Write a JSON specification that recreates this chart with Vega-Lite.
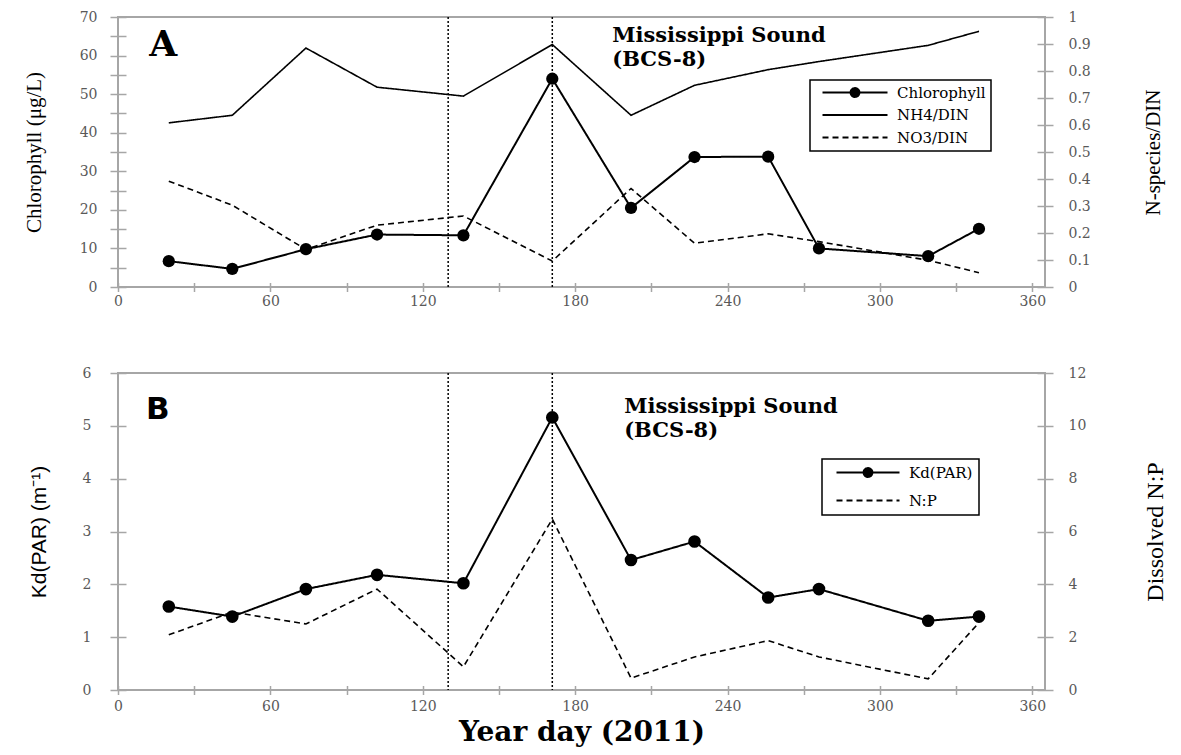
{
  "$schema": "https://vega.github.io/schema/vega-lite/v6.json",
  "background": "white",
  "padding": {"left": 22, "top": 9, "right": 5, "bottom": 5},
  "datasets": {
    "chl": [
      {"day": 20, "series": "Chlorophyll", "value": 6.7},
      {"day": 45, "series": "Chlorophyll", "value": 4.7},
      {"day": 74, "series": "Chlorophyll", "value": 9.8},
      {"day": 102, "series": "Chlorophyll", "value": 13.6},
      {"day": 136, "series": "Chlorophyll", "value": 13.4},
      {"day": 171, "series": "Chlorophyll", "value": 54.0},
      {"day": 202, "series": "Chlorophyll", "value": 20.5},
      {"day": 227, "series": "Chlorophyll", "value": 33.7},
      {"day": 256, "series": "Chlorophyll", "value": 33.8},
      {"day": 276, "series": "Chlorophyll", "value": 10.0},
      {"day": 319, "series": "Chlorophyll", "value": 8.0},
      {"day": 339, "series": "Chlorophyll", "value": 15.1}
    ],
    "nspecies": [
      {"day": 20, "series": "NH4/DIN", "value": 0.608},
      {"day": 45, "series": "NH4/DIN", "value": 0.636},
      {"day": 74, "series": "NH4/DIN", "value": 0.885},
      {"day": 102, "series": "NH4/DIN", "value": 0.74},
      {"day": 136, "series": "NH4/DIN", "value": 0.707},
      {"day": 171, "series": "NH4/DIN", "value": 0.898},
      {"day": 202, "series": "NH4/DIN", "value": 0.636},
      {"day": 227, "series": "NH4/DIN", "value": 0.747},
      {"day": 256, "series": "NH4/DIN", "value": 0.805},
      {"day": 276, "series": "NH4/DIN", "value": 0.835},
      {"day": 319, "series": "NH4/DIN", "value": 0.895},
      {"day": 339, "series": "NH4/DIN", "value": 0.947},
      {"day": 20, "series": "NO3/DIN", "value": 0.392},
      {"day": 45, "series": "NO3/DIN", "value": 0.303},
      {"day": 74, "series": "NO3/DIN", "value": 0.139},
      {"day": 102, "series": "NO3/DIN", "value": 0.229},
      {"day": 136, "series": "NO3/DIN", "value": 0.263},
      {"day": 171, "series": "NO3/DIN", "value": 0.096},
      {"day": 202, "series": "NO3/DIN", "value": 0.365},
      {"day": 227, "series": "NO3/DIN", "value": 0.162},
      {"day": 256, "series": "NO3/DIN", "value": 0.197},
      {"day": 276, "series": "NO3/DIN", "value": 0.168},
      {"day": 319, "series": "NO3/DIN", "value": 0.099},
      {"day": 339, "series": "NO3/DIN", "value": 0.053}
    ],
    "kd": [
      {"day": 20, "series": "Kd(PAR)", "value": 1.58},
      {"day": 45, "series": "Kd(PAR)", "value": 1.39},
      {"day": 74, "series": "Kd(PAR)", "value": 1.91},
      {"day": 102, "series": "Kd(PAR)", "value": 2.18},
      {"day": 136, "series": "Kd(PAR)", "value": 2.02},
      {"day": 171, "series": "Kd(PAR)", "value": 5.16},
      {"day": 202, "series": "Kd(PAR)", "value": 2.46},
      {"day": 227, "series": "Kd(PAR)", "value": 2.81},
      {"day": 256, "series": "Kd(PAR)", "value": 1.75},
      {"day": 276, "series": "Kd(PAR)", "value": 1.91},
      {"day": 319, "series": "Kd(PAR)", "value": 1.31},
      {"day": 339, "series": "Kd(PAR)", "value": 1.39}
    ],
    "np": [
      {"day": 20, "series": "N:P", "value": 2.09},
      {"day": 45, "series": "N:P", "value": 2.95},
      {"day": 74, "series": "N:P", "value": 2.5},
      {"day": 102, "series": "N:P", "value": 3.82},
      {"day": 136, "series": "N:P", "value": 0.88},
      {"day": 171, "series": "N:P", "value": 6.47},
      {"day": 202, "series": "N:P", "value": 0.45},
      {"day": 227, "series": "N:P", "value": 1.25},
      {"day": 256, "series": "N:P", "value": 1.87},
      {"day": 276, "series": "N:P", "value": 1.25},
      {"day": 319, "series": "N:P", "value": 0.42},
      {"day": 339, "series": "N:P", "value": 2.55}
    ],
    "events": [
      {"day": 130},
      {"day": 171}
    ],
    "labelsA": [
      {"day": 12.3, "level": 60, "label": "A"}
    ],
    "titlesA": [
      {"day": 194.6, "level": 63.4, "label": "Mississippi Sound"},
      {"day": 194.6, "level": 57.3, "label": "(BCS-8)"}
    ],
    "labelsB": [
      {"day": 11, "level": 5.13, "label": "B"}
    ],
    "titlesB": [
      {"day": 199.3, "level": 5.24, "label": "Mississippi Sound"},
      {"day": 199.3, "level": 4.795, "label": "(BCS-8)"}
    ]
  },
  "spacing": 55,
  "resolve": {"scale": {"strokeDash": "independent"}, "legend": {"strokeDash": "independent"}},
  "vconcat": [
    {
      "width": 927,
      "height": 270,
      "layer": [
        {
          "data": {"name": "chl"},
          "mark": {"type": "line", "color": "black", "strokeWidth": 2},
          "encoding": {
            "x": {"field": "day", "type": "quantitative", "scale": {"domain": [0, 365], "nice": false},
              "axis": {"values": [0, 30, 60, 90, 120, 150, 180, 210, 240, 270, 300, 330, 360],
                "labelExpr": "datum.value % 60 === 0 ? datum.label : ''", "labelOverlap": false,
                "title": null, "offset": -4.5, "tickSize": 9, "labelPadding": 3}},
            "y": {"field": "value", "type": "quantitative", "scale": {"domain": [0, 70], "nice": false},
              "axis": {"orient": "left", "title": "Chlorophyll (μg/L)", "values": [0, 5, 10, 15, 20, 25, 30, 35, 40, 45, 50, 55, 60, 65, 70],
                "labelExpr": "datum.value % 10 === 0 ? datum.label : ''", "labelOverlap": false,
                "offset": -8, "tickSize": 16, "labelPadding": 13, "titleX": -81.8,
                "titleFont": "Liberation Serif", "titleFontSize": 21}},
            "strokeDash": {"field": "series", "type": "nominal",
              "scale": {"domain": ["Chlorophyll", "NH4/DIN", "NO3/DIN"], "range": [[1, 0], [1, 0], [6, 4]]},
              "legend": {"title": null, "orient": "none", "legendX": 692, "legendY": 63,
                "strokeColor": "black", "fillColor": "white", "padding": 5,
                "symbolType": "M0,0H13", "symbolSize": 100, "symbolStrokeWidth": 1.8,
                "symbolStrokeColor": "black", "symbolFillColor": "black",
                "labelFont": "DejaVu Serif", "labelFontSize": 15, "labelColor": "black", "labelOffset": 67, "rowPadding": 6.5,
                "encode": {"symbols": {"update": {
                  "shape": {"signal": "datum.value === 'Chlorophyll' ? 'M0,0H13M5.6,0A0.9,0.9 0 1,1 7.4,0A0.9,0.9 0 1,1 5.6,0Z' : 'M0,0H13'"},
                  "fill": {"value": "black"}, "stroke": {"value": "black"}}},
                  "legend": {"update": {"strokeWidth": {"value": 1.5}}}}}}
          }
        },
        {
          "data": {"name": "nspecies"},
          "mark": {"type": "line", "color": "black", "strokeWidth": 1.6},
          "encoding": {
            "x": {"field": "day", "type": "quantitative"},
            "y": {"field": "value", "type": "quantitative", "scale": {"domain": [0, 1], "nice": false},
              "axis": {"orient": "right", "title": "N-species/DIN", "values": [0, 0.1, 0.2, 0.3, 0.4, 0.5, 0.6, 0.7, 0.8, 0.9, 1],
                "format": "~g", "labelOverlap": false, "offset": -8, "tickSize": 16, "labelPadding": 15, "titlePadding": 52,
                "titleAngle": 270, "titleBaseline": "top",
                "titleFont": "Liberation Serif", "titleFontSize": 21}},
            "strokeDash": {"field": "series", "type": "nominal",
              "scale": {"domain": ["Chlorophyll", "NH4/DIN", "NO3/DIN"], "range": [[1, 0], [1, 0], [6, 4]]}},
            "detail": {"field": "series", "type": "nominal"}
          }
        },
        {
          "data": {"name": "events"},
          "mark": {"type": "rule", "color": "black", "strokeWidth": 1.5, "strokeDash": [2, 2]},
          "encoding": {
            "x": {"field": "day", "type": "quantitative"}
          }
        },
        {
          "data": {"name": "chl"},
          "mark": {"type": "point", "filled": true, "color": "black", "size": 150, "opacity": 1},
          "encoding": {
            "x": {"field": "day", "type": "quantitative"},
            "y": {"field": "value", "type": "quantitative", "scale": {"domain": [0, 70], "nice": false}, "axis": null}
          }
        },
        {
          "data": {"name": "labelsA"},
          "mark": {"type": "text", "font": "DejaVu Serif", "fontWeight": "bold", "fontSize": 36, "align": "left", "baseline": "alphabetic", "color": "black"},
          "encoding": {
            "x": {"field": "day", "type": "quantitative"},
            "y": {"field": "level", "type": "quantitative", "scale": {"domain": [0, 70], "nice": false}, "axis": null},
            "text": {"field": "label"}
          }
        },
        {
          "data": {"name": "titlesA"},
          "mark": {"type": "text", "font": "DejaVu Serif", "fontWeight": "bold", "fontSize": 21, "align": "left", "baseline": "alphabetic", "color": "black"},
          "encoding": {
            "x": {"field": "day", "type": "quantitative"},
            "y": {"field": "level", "type": "quantitative", "scale": {"domain": [0, 70], "nice": false}, "axis": null},
            "text": {"field": "label"}
          }
        }
      ],
      "resolve": {"scale": {"y": "independent"}}
    },
    {
      "width": 927,
      "height": 317,
      "layer": [
        {
          "data": {"name": "kd"},
          "mark": {"type": "line", "color": "black", "strokeWidth": 2},
          "encoding": {
            "x": {"field": "day", "type": "quantitative", "scale": {"domain": [0, 365], "nice": false},
              "axis": {"values": [0, 30, 60, 90, 120, 150, 180, 210, 240, 270, 300, 330, 360],
                "labelExpr": "datum.value % 60 === 0 ? datum.label : ''", "labelOverlap": false,
                "title": "Year day (2011)", "titleFont": "DejaVu Serif", "titleFontWeight": "bold", "titleFontSize": 28,
                "titlePadding": 5, "offset": -4.5, "tickSize": 9, "labelPadding": 5}},
            "y": {"field": "value", "type": "quantitative", "scale": {"domain": [0, 6], "nice": false},
              "axis": {"orient": "left", "title": "Kd(PAR) (m⁻¹)", "values": [0, 1, 2, 3, 4, 5, 6], "labelOverlap": false,
                "offset": -8, "tickSize": 16, "labelPadding": 19, "titleX": -76.8,
                "titleFont": "Liberation Sans", "titleFontSize": 21}},
            "strokeDash": {"field": "series", "type": "nominal",
              "scale": {"domain": ["Kd(PAR)", "N:P"], "range": [[1, 0], [6, 4]]},
              "legend": {"title": null, "orient": "none", "legendX": 704, "legendY": 86,
                "strokeColor": "black", "fillColor": "white", "padding": 6,
                "symbolType": "M-0.2,0H12.4", "symbolSize": 100, "symbolStrokeWidth": 1.8,
                "symbolStrokeColor": "black", "symbolFillColor": "black",
                "labelFont": "DejaVu Serif", "labelFontSize": 15, "labelColor": "black", "labelOffset": 66, "rowPadding": 12,
                "encode": {"symbols": {"update": {
                  "shape": {"signal": "datum.value === 'Kd(PAR)' ? 'M0.2,0H12.8M5.6,0A0.9,0.9 0 1,1 7.4,0A0.9,0.9 0 1,1 5.6,0Z' : 'M0.2,0H12.8'"},
                  "fill": {"value": "black"}, "stroke": {"value": "black"}}},
                  "legend": {"update": {"strokeWidth": {"value": 1.5}}}}}}
          }
        },
        {
          "data": {"name": "np"},
          "mark": {"type": "line", "color": "black", "strokeWidth": 1.6},
          "encoding": {
            "x": {"field": "day", "type": "quantitative"},
            "y": {"field": "value", "type": "quantitative", "scale": {"domain": [0, 12], "nice": false},
              "axis": {"orient": "right", "title": "Dissolved N:P", "values": [0, 2, 4, 6, 8, 10, 12], "labelOverlap": false,
                "offset": -8, "tickSize": 16, "labelPadding": 15, "titlePadding": 58,
                "titleAngle": 270, "titleBaseline": "top",
                "titleFont": "Liberation Serif", "titleFontSize": 24}},
            "strokeDash": {"field": "series", "type": "nominal",
              "scale": {"domain": ["Kd(PAR)", "N:P"], "range": [[1, 0], [6, 4]]}}
          }
        },
        {
          "data": {"name": "events"},
          "mark": {"type": "rule", "color": "black", "strokeWidth": 1.5, "strokeDash": [2, 2]},
          "encoding": {
            "x": {"field": "day", "type": "quantitative"}
          }
        },
        {
          "data": {"name": "kd"},
          "mark": {"type": "point", "filled": true, "color": "black", "size": 160, "opacity": 1},
          "encoding": {
            "x": {"field": "day", "type": "quantitative"},
            "y": {"field": "value", "type": "quantitative", "scale": {"domain": [0, 6], "nice": false}, "axis": null}
          }
        },
        {
          "data": {"name": "labelsB"},
          "mark": {"type": "text", "font": "DejaVu Sans", "fontWeight": "bold", "fontSize": 31, "align": "left", "baseline": "alphabetic", "color": "black"},
          "encoding": {
            "x": {"field": "day", "type": "quantitative"},
            "y": {"field": "level", "type": "quantitative", "scale": {"domain": [0, 6], "nice": false}, "axis": null},
            "text": {"field": "label"}
          }
        },
        {
          "data": {"name": "titlesB"},
          "mark": {"type": "text", "font": "DejaVu Serif", "fontWeight": "bold", "fontSize": 21, "align": "left", "baseline": "alphabetic", "color": "black"},
          "encoding": {
            "x": {"field": "day", "type": "quantitative"},
            "y": {"field": "level", "type": "quantitative", "scale": {"domain": [0, 6], "nice": false}, "axis": null},
            "text": {"field": "label"}
          }
        }
      ],
      "resolve": {"scale": {"y": "independent"}}
    }
  ],
  "config": {
    "view": {"stroke": "#a6a6a6", "strokeWidth": 2},
    "axis": {
      "domain": false, "grid": false,
      "tickColor": "#a6a6a6", "tickWidth": 1.5,
      "labelColor": "#595959", "labelFont": "DejaVu Serif", "labelFontSize": 14,
      "labelFlush": false, "labelOverlap": false,
      "titleColor": "black", "titleFontWeight": "normal"
    }
  }
}
